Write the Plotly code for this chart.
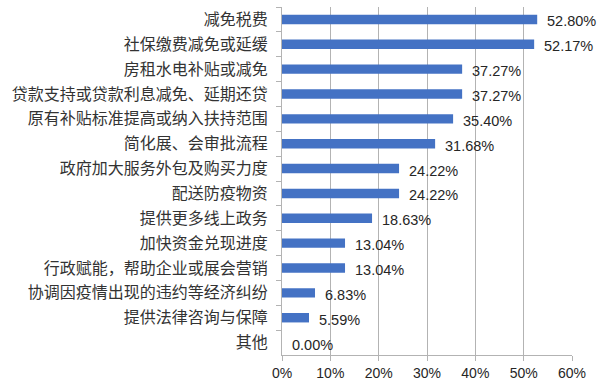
import plotly.graph_objects as go

categories = [
    "减免税费",
    "社保缴费减免或延缓",
    "房租水电补贴或减免",
    "贷款支持或贷款利息减免、延期还贷",
    "原有补贴标准提高或纳入扶持范围",
    "简化展、会审批流程",
    "政府加大服务外包及购买力度",
    "配送防疫物资",
    "提供更多线上政务",
    "加快资金兑现进度",
    "行政赋能，帮助企业或展会营销",
    "协调因疫情出现的违约等经济纠纷",
    "提供法律咨询与保障",
    "其他",
]
values = [0.5280, 0.5217, 0.3727, 0.3727, 0.3540, 0.3168, 0.2422,
          0.2422, 0.1863, 0.1304, 0.1304, 0.0683, 0.0559, 0.0000]
x_ticks = [0, 0.1, 0.2, 0.3, 0.4, 0.5, 0.6]
x_ticktext = ["0%", "10%", "20%", "30%", "40%", "50%", "60%"]

fig = go.Figure()
fig.add_trace(go.Bar(
    x=values, y=categories, orientation="h",
    marker=dict(color="#4472C4", line=dict(width=0)),
    width=0.38,
    hoverinfo="skip",
))

for c, v in zip(categories, values):
    fig.add_annotation(
        x=v, y=c, text=f"{v*100:.2f}%", showarrow=False,
        xanchor="left", yanchor="middle", xshift=8, yshift=-2,
        font=dict(family="Liberation Sans, Arial", size=14.5, color="#262626"),
    )

grid = "#B3B3B3"
fig.update_layout(
    width=600, height=392,
    margin=dict(l=282, r=28, t=7, b=37),
    paper_bgcolor="white", plot_bgcolor="white",
    showlegend=False,
    bargap=0.62,
    xaxis=dict(
        range=[0, 0.6], tickvals=x_ticks, ticktext=x_ticktext,
        showgrid=True, gridcolor=grid, gridwidth=1,
        showline=True, linecolor=grid, linewidth=1,
        ticks="outside", ticklen=5, tickcolor=grid,
        zeroline=False, automargin=False,
        tickfont=dict(family="Liberation Sans, Arial", size=14, color="#262626"),
        fixedrange=True,
    ),
    yaxis=dict(
        type="category", categoryorder="array", categoryarray=categories,
        autorange="reversed", automargin=False,
        showline=True, linecolor=grid, linewidth=1,
        ticks="outside", ticklen=5, tickcolor=grid, tickson="boundaries",
        showgrid=False,
        ticklabelstandoff=10,
        tickfont=dict(family="Noto Sans CJK SC", size=16, color="#333333"),
        fixedrange=True,
    ),
)

fig.write_html("out.html", config={"displayModeBar": False},
               post_script="document.body.style.margin='0px';")
